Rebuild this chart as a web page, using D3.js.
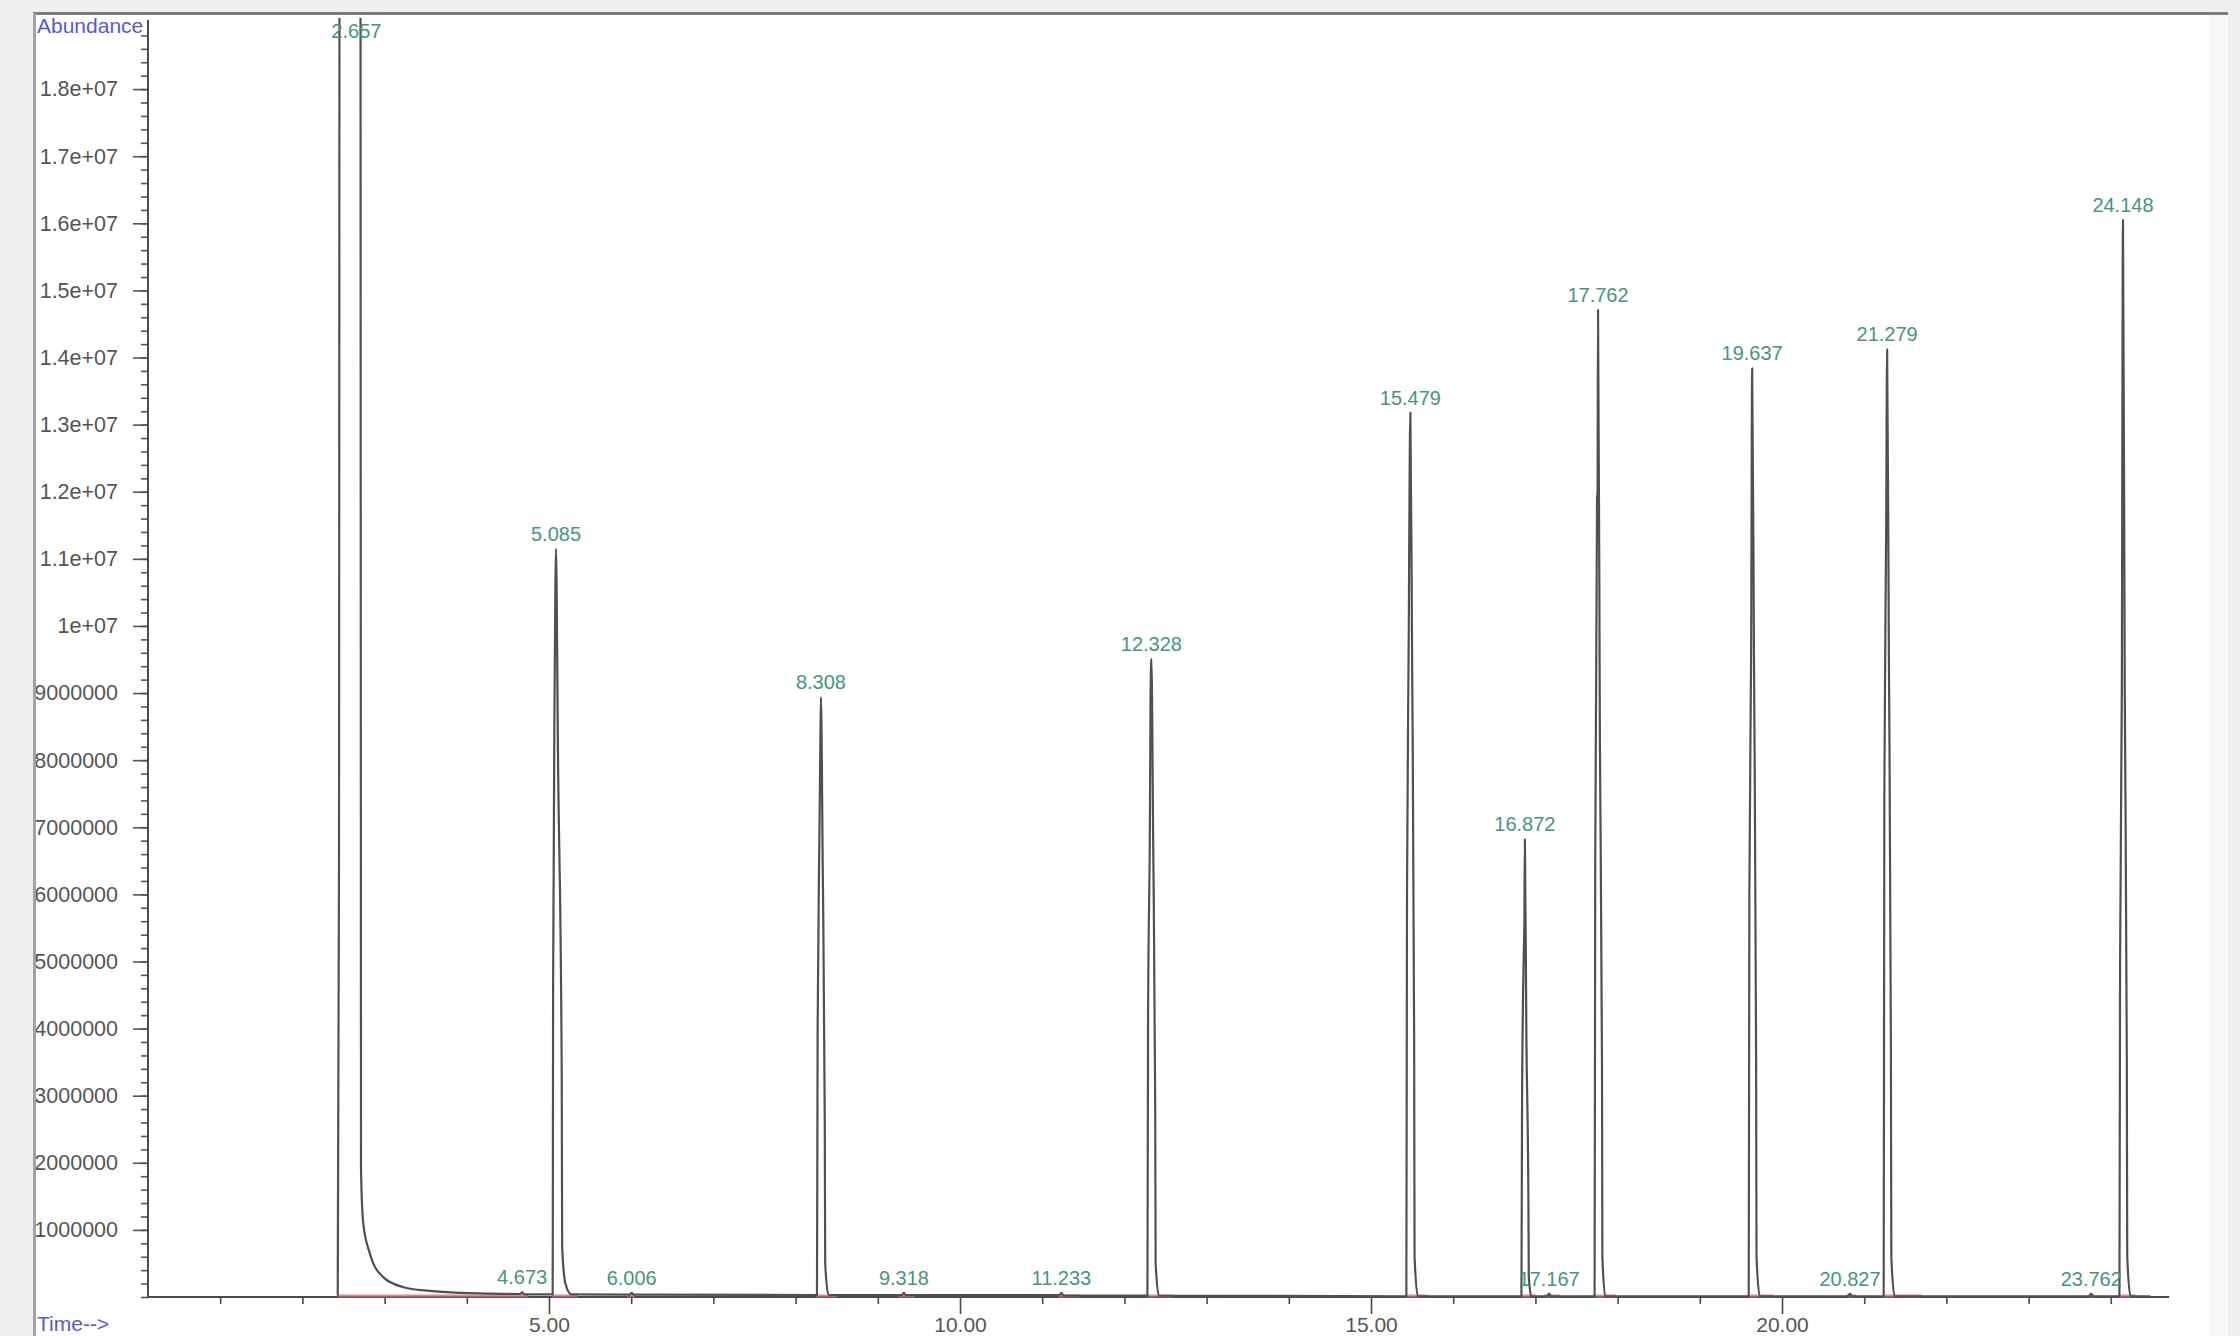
<!DOCTYPE html>
<html>
<head>
<meta charset="utf-8">
<script src="https://cdn.jsdelivr.net/npm/d3@7"></script>
<style>
  html, body { margin: 0; padding: 0; background: #efefef; }
  svg { display: block; font-family: "Liberation Sans", Arial, sans-serif; }
</style>
</head>
<body>
<svg id="chart" width="2240" height="1336"></svg>
<script>
// chromatogram trace, [time (min), abundance]
const tracePoints = [
  [2.43, 0.02e6], [2.445, 6.4e6], [2.46, 40e6], [2.70, 40e6], [2.713, 1.9e6], [2.74, 1.1e6],
  [2.82, 0.65e6], [2.98, 0.30e6], [3.22, 0.15e6], [3.55, 0.09e6], [3.95, 0.06e6], [4.30, 0.05e6],
  [4.65, 0.045e6], [4.673, 0.07e6], [4.70, 0.04e6],
  [5.045, 0.04e6], [5.05, 4.6e6], [5.07, 9.3e6], [5.085, 11.15e6], [5.11, 8.0e6], [5.155, 3.3e6],
  [5.16, 0.75e6], [5.20, 0.2e6], [5.27, 0.04e6],
  [5.98, 0.035e6], [6.006, 0.06e6], [6.03, 0.035e6],
  [8.26, 0.03e6], [8.268, 4.0e6], [8.29, 6.9e6], [8.30, 8.1e6], [8.308, 8.94e6], [8.33, 6.4e6],
  [8.355, 2.6e6], [8.36, 0.5e6], [8.40, 0.03e6],
  [9.29, 0.03e6], [9.318, 0.06e6], [9.34, 0.03e6],
  [11.21, 0.03e6], [11.233, 0.06e6], [11.26, 0.02e6],
  [12.28, 0.02e6], [12.288, 4.2e6], [12.31, 7.0e6], [12.318, 8.9e6], [12.328, 9.51e6], [12.35, 6.8e6],
  [12.375, 2.8e6], [12.38, 0.5e6], [12.42, 0.02e6],
  [15.43, 0.01e6], [15.438, 6.0e6], [15.46, 10.0e6], [15.468, 11.9e6], [15.479, 13.18e6], [15.50, 9.5e6],
  [15.525, 3.8e6], [15.53, 0.6e6], [15.57, 0.01e6],
  [16.83, 0.01e6], [16.838, 3.0e6], [16.86, 5.2e6], [16.866, 5.6e6], [16.872, 6.82e6], [16.89, 3.9e6],
  [16.915, 1.4e6], [16.92, 0.3e6], [16.95, 0.01e6],
  [17.14, 0.01e6], [17.167, 0.05e6], [17.19, 0.01e6],
  [17.72, 0.01e6], [17.728, 6.5e6], [17.75, 11.9e6], [17.756, 12.0e6], [17.762, 14.71e6], [17.785, 8.2e6],
  [17.81, 3.5e6], [17.815, 0.6e6], [17.85, 0.01e6],
  [19.595, 0.01e6], [19.603, 6.0e6], [19.625, 9.7e6], [19.637, 13.84e6], [19.66, 9.3e6], [19.685, 3.6e6],
  [19.69, 0.6e6], [19.73, 0.01e6],
  [20.80, 0.01e6], [20.827, 0.05e6], [20.85, 0.01e6],
  [21.237, 0.01e6], [21.245, 7.5e6], [21.267, 11.4e6], [21.279, 14.12e6], [21.30, 9.6e6], [21.325, 3.7e6],
  [21.33, 0.6e6], [21.37, 0.01e6],
  [23.74, 0.01e6], [23.762, 0.05e6], [23.78, 0.01e6],
  [24.105, 0.01e6], [24.113, 5.0e6], [24.135, 9.2e6], [24.14, 12.6e6], [24.148, 16.05e6], [24.17, 9.0e6],
  [24.195, 3.5e6], [24.20, 0.6e6], [24.24, 0.01e6], [24.48, 0.01e6]
];

// peak labels and their apex abundance
const peakLabels = ["2.657", "4.673", "5.085", "6.006", "8.308", "9.318", "11.233", "12.328", "15.479",
  "16.872", "17.167", "17.762", "19.637", "20.827", "21.279", "23.762", "24.148"];
const peakApex = [40e6, 0.07e6, 11.15e6, 0.06e6, 8.94e6, 0.06e6, 0.06e6, 9.51e6, 13.18e6,
  6.82e6, 0.05e6, 14.71e6, 13.84e6, 0.05e6, 14.12e6, 0.05e6, 16.05e6];

// integration baselines (start, end in min)
const integrations = [[2.43, 4.6], [4.6, 4.75], [5.04, 5.35], [5.95, 6.05], [8.25, 8.5], [9.25, 9.45],
  [11.2, 11.45], [12.27, 12.6], [15.42, 15.7], [16.82, 17.0], [17.1, 17.3], [17.71, 17.98],
  [19.59, 19.9], [20.78, 20.9], [21.23, 21.7], [23.72, 23.8], [24.1, 24.3]];

// axis ticks
const xMajorTicks = [5, 10, 15, 20];
const xTickLabels = ["5.00", "10.00", "15.00", "20.00"];
const xMinorTicks = [1, 2, 3, 4, 6, 7, 8, 9, 11, 12, 13, 14, 16, 17, 18, 19, 21, 22, 23, 24];
const yMajorTicks = [1e6, 2e6, 3e6, 4e6, 5e6, 6e6, 7e6, 8e6, 9e6, 1e7, 1.1e7, 1.2e7, 1.3e7, 1.4e7,
  1.5e7, 1.6e7, 1.7e7, 1.8e7];
const yTickLabels = ["1000000", "2000000", "3000000", "4000000", "5000000", "6000000", "7000000",
  "8000000", "9000000", "1e+07", "1.1e+07", "1.2e+07", "1.3e+07", "1.4e+07", "1.5e+07", "1.6e+07",
  "1.7e+07", "1.8e+07"];
const yMinorStep = 2e5;
const xAxisFrom = 0.12, xAxisTo = 24.71;
const yMax = 1.9e7;

const svg = d3.select("#chart");
const W = 2240, H = 1336;

const x = d3.scaleLinear().domain([0, 25]).range([138, 138 + 25 * 82.2]);
const y = d3.scaleLinear().domain([0, yMax]).range([1297, 22]);

// background panel
svg.append("rect").attr("width", W).attr("height", H).attr("fill", "#efefef");
svg.append("rect").attr("x", 33).attr("y", 13).attr("width", 2195).attr("height", H - 13).attr("fill", "#f7f7f7");
svg.append("rect").attr("x", 36).attr("y", 15).attr("width", 2174).attr("height", H - 15).attr("fill", "#fff");

svg.append("defs").append("clipPath").attr("id", "plotclip")
  .append("rect").attr("x", 140).attr("y", 18).attr("width", 2040).attr("height", 1300);

// x axis
const xg = svg.append("g").attr("transform", `translate(0,${y(0)})`);
xg.append("line").attr("x1", x(xAxisFrom)).attr("x2", x(xAxisTo))
  .attr("stroke", "#4a4a4a").attr("stroke-width", 2);
xg.call(d3.axisBottom(x).tickValues(xMinorTicks).tickSize(7).tickFormat(""))
  .call(g => g.select(".domain").remove());
const xMaj = svg.append("g").attr("transform", `translate(0,${y(0)})`)
  .call(d3.axisBottom(x).tickValues(xMajorTicks).tickSize(17).tickPadding(3)
    .tickFormat((d, i) => xTickLabels[i]));
xMaj.select(".domain").remove();
svg.selectAll(".tick line").attr("stroke", "#4a4a4a").attr("stroke-width", 1.6);
xMaj.selectAll("text").attr("font-size", 21).attr("fill", "#555").attr("font-family", "Liberation Sans, Arial, sans-serif");

// integration baselines
svg.append("g").selectAll("line").data(integrations).enter().append("line")
  .attr("x1", d => x(d[0])).attr("x2", d => x(d[1]))
  .attr("y1", y(0) - 1).attr("y2", y(0) - 1)
  .attr("stroke", "#c86a68").attr("stroke-width", 3).attr("opacity", 0.75);

// y axis
const yg = svg.append("g").attr("transform", "translate(148,0)");
yg.call(d3.axisLeft(y).tickValues(d3.range(0, yMax, yMinorStep)).tickSize(7).tickFormat(""))
  .call(g => g.select(".domain").remove());
const yMaj = svg.append("g").attr("transform", "translate(148,0)")
  .call(d3.axisLeft(y).tickValues(yMajorTicks).tickSize(15).tickPadding(15)
    .tickFormat((d, i) => yTickLabels[i]));
yMaj.select(".domain").remove();
yg.selectAll(".tick line").attr("stroke", "#555").attr("stroke-width", 1.6);
yMaj.selectAll(".tick line").attr("stroke", "#555").attr("stroke-width", 1.6);
yMaj.selectAll("text").attr("font-size", 21.5).attr("fill", "#555").attr("font-family", "Liberation Sans, Arial, sans-serif");
svg.append("line").attr("x1", 148).attr("x2", 148).attr("y1", 20).attr("y2", y(0) + 1)
  .attr("stroke", "#4a4a4a").attr("stroke-width", 2);

// trace
const line = d3.line().curve(d3.curveMonotoneX).x(d => x(d[0])).y(d => y(d[1]));
svg.append("path").datum(tracePoints)
  .attr("clip-path", "url(#plotclip)")
  .attr("d", line)
  .attr("fill", "none").attr("stroke", "#505050").attr("stroke-width", 2.2)
  .attr("stroke-linejoin", "round");

// peak labels
svg.append("g").selectAll("text").data(peakLabels).enter().append("text")
  .attr("x", d => x(+d))
  .attr("y", (d, i) => Math.max(y(Math.min(peakApex[i], yMax)) - 8, 38))
  .attr("text-anchor", "middle")
  .attr("font-size", 20).attr("fill", "#46967a")
  .text(d => d);

// axis titles
svg.append("text").attr("x", 37).attr("y", 33).attr("font-size", 21).attr("fill", "#5858cc").text("Abundance");
svg.append("text").attr("x", 37).attr("y", 1331).attr("font-size", 21).attr("fill", "#5858cc").text("Time-->");

// frame borders
svg.append("line").attr("x1", 33).attr("x2", 2228).attr("y1", 13.5).attr("y2", 13.5)
  .attr("stroke", "#7c7c7c").attr("stroke-width", 3);
svg.append("line").attr("x1", 34.5).attr("x2", 34.5).attr("y1", 13).attr("y2", H)
  .attr("stroke", "#a3a3a3").attr("stroke-width", 3);
</script>
</body>
</html>
